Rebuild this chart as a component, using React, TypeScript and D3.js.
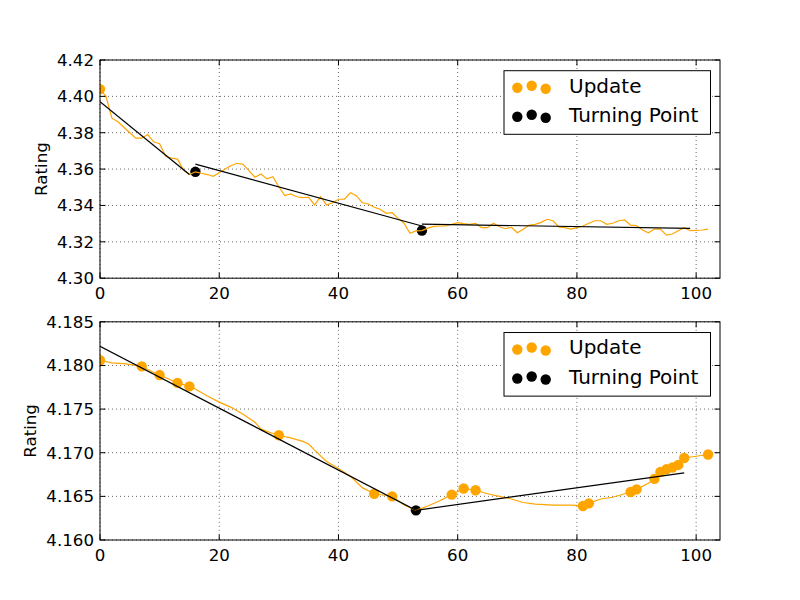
import * as d3 from "d3";

// top panel: rating at x = 0..102
const topRating = [
  4.404, 4.4, 4.388, 4.386, 4.383, 4.38, 4.377, 4.377, 4.379, 4.375,
  4.374, 4.367, 4.366, 4.3655, 4.3595, 4.357, 4.3585, 4.3577, 4.357, 4.356,
  4.358, 4.36, 4.362, 4.3632, 4.3626, 4.359, 4.3555, 4.3573, 4.3546, 4.3558,
  4.3503, 4.3454, 4.3463, 4.3448, 4.3443, 4.3445, 4.3403, 4.3448, 4.3403, 4.3415,
  4.3434, 4.3434, 4.347, 4.3454, 4.3415, 4.3408, 4.339, 4.3379, 4.3357, 4.336,
  4.3329, 4.3302, 4.3247, 4.326, 4.3262, 4.3275, 4.3285, 4.3287, 4.3287, 4.3296,
  4.3305, 4.33, 4.3296, 4.3302, 4.3278, 4.3278, 4.3302, 4.3283, 4.3272, 4.328,
  4.325, 4.3269, 4.3292, 4.3296, 4.3307, 4.3324, 4.3316, 4.328, 4.3278, 4.327,
  4.3278, 4.3287, 4.3302, 4.3316, 4.3316, 4.3296, 4.3302, 4.3316, 4.332, 4.3292,
  4.3289, 4.3265, 4.325, 4.327, 4.327, 4.3237, 4.3243, 4.3261, 4.3278, 4.3261,
  4.3263, 4.3265, 4.327,
];
const topX = topRating.map((_, i) => i);
const topUpdates = [0];
const topTurning = [16, 54];
const topFits: [number, number, number, number][] = [
  [0, 4.397, 15, 4.357],
  [16, 4.3627, 54, 4.3287],
  [54, 4.3297, 99, 4.3274],
];
const topTicks = [4.3, 4.32, 4.34, 4.36, 4.38, 4.4, 4.42];

// bottom panel
const bottomX = [
  0, 2, 4, 6, 7, 9, 10, 12, 13, 15, 16, 18, 20, 22, 24, 26, 27, 29, 30, 32,
  34, 35, 36, 38, 40, 42, 44, 46, 48, 49, 51, 53, 55, 57, 59, 61, 63, 65, 67, 69,
  71, 73, 76, 79, 81, 82, 84, 86, 88, 89, 90, 92, 93, 94, 95, 96, 97, 98, 102,
];
const bottomRating = [
  4.1806, 4.1803, 4.1802, 4.18, 4.1799, 4.1792, 4.1789, 4.1783, 4.178, 4.1776,
  4.1773, 4.1765, 4.1758, 4.1752, 4.1744, 4.1735, 4.1727, 4.1722, 4.172, 4.1717,
  4.1713, 4.171, 4.1703, 4.169, 4.1682, 4.1673, 4.166, 4.1653, 4.1651, 4.165,
  4.164, 4.1634, 4.1639, 4.1645, 4.1652, 4.1659, 4.1657, 4.1653, 4.165, 4.1647,
  4.1643, 4.1641, 4.164, 4.164, 4.1639, 4.1642, 4.1647, 4.1649, 4.1653, 4.1655,
  4.1658, 4.1665, 4.167, 4.1678, 4.1681, 4.1683, 4.1686, 4.1694, 4.1698,
];
const bottomUpdates = [0, 7, 10, 13, 15, 30, 46, 49, 59, 61, 63, 81, 82, 89, 90, 93, 94, 95, 96, 97, 98, 102];
const bottomTurning = [53];
const bottomFits: [number, number, number, number][] = [
  [0, 4.1822, 53, 4.1634],
  [53, 4.1634, 98, 4.1677],
];
const bottomTicks = [4.16, 4.165, 4.17, 4.175, 4.18, 4.185];

const xTicks = [0, 20, 40, 60, 80, 100];
const legendLabels = ["Update", "Turning Point"];

const ORANGE = "#FFA500";
const FONT = "DejaVu Sans, sans-serif";
const FS = 16.67;
const LEGEND_FS = 20;
const W = 800;
const H = 600;
const LEFT = 100;
const RIGHT = 720;
const PANEL_H = 218.18;
const TICK = 5.5;

type PanelProps = {
  id: string;
  top: number;
  xs: number[];
  ys: number[];
  updates: number[];
  turning: number[];
  fits: [number, number, number, number][];
  yTicks: number[];
  fmt: string;
  labelX: number;
};

function Panel({ id, top, xs, ys, updates, turning, fits, yTicks, fmt, labelX }: PanelProps) {
  const bottom = top + PANEL_H;
  const x = d3.scaleLinear([0, 104], [LEFT, RIGHT]);
  const y = d3.scaleLinear([yTicks[0], yTicks[yTicks.length - 1]], [bottom, top]);
  const format = d3.format(fmt);
  const pts = xs.map((v, i) => [v, ys[i]] as [number, number]);
  const valueAt = (v: number) => ys[xs.indexOf(v)];
  const line = d3.line<[number, number]>().x((d) => x(d[0])).y((d) => y(d[1]));

  // legend box, scatter legend with 3 markers at matplotlib's default y offsets
  const lx = 504;
  const ly = top + 10.7;
  const offsets = [0.375, 0.5, 0.3125];
  const markerXs = [517.3, 531.7, 545.7];

  return (
    <g>
      <defs>
        <clipPath id={id}>
          <rect x={LEFT} y={top} width={RIGHT - LEFT} height={PANEL_H} />
        </clipPath>
      </defs>
      {/* grid */}
      <g stroke="black" strokeWidth={0.6} strokeDasharray="1,3">
        {xTicks.map((t) => (
          <line key={"gx" + t} x1={x(t)} x2={x(t)} y1={top} y2={bottom} />
        ))}
        {yTicks.map((t) => (
          <line key={"gy" + t} x1={LEFT} x2={RIGHT} y1={y(t)} y2={y(t)} />
        ))}
      </g>
      <g clipPath={`url(#${id})`}>
        {updates.map((u) => (
          <circle key={"u" + u} cx={x(u)} cy={y(valueAt(u))} r={5.2} fill={ORANGE} />
        ))}
        {turning.map((u) => (
          <circle key={"t" + u} cx={x(u)} cy={y(valueAt(u))} r={5.2} fill="black" />
        ))}
        <path d={line(pts) ?? undefined} fill="none" stroke={ORANGE} strokeWidth={1.2} />
        {fits.map((f, i) => (
          <line key={"f" + i} x1={x(f[0])} y1={y(f[1])} x2={x(f[2])} y2={y(f[3])} stroke="black" strokeWidth={1.2} />
        ))}
      </g>
      {/* ticks, inward on all sides */}
      <g stroke="black" strokeWidth={1}>
        {xTicks.map((t) => (
          <g key={"tx" + t}>
            <line x1={x(t)} x2={x(t)} y1={bottom} y2={bottom - TICK} />
            <line x1={x(t)} x2={x(t)} y1={top} y2={top + TICK} />
          </g>
        ))}
        {yTicks.map((t) => (
          <g key={"ty" + t}>
            <line x1={LEFT} x2={LEFT + TICK} y1={y(t)} y2={y(t)} />
            <line x1={RIGHT} x2={RIGHT - TICK} y1={y(t)} y2={y(t)} />
          </g>
        ))}
      </g>
      <rect x={LEFT} y={top} width={RIGHT - LEFT} height={PANEL_H} fill="none" stroke="black" strokeWidth={1} />
      {/* tick labels */}
      <g fontFamily={FONT} fontSize={FS} fill="black">
        {xTicks.map((t) => (
          <text key={"lx" + t} x={x(t)} y={bottom + 21} textAnchor="middle">
            {t}
          </text>
        ))}
        {yTicks.map((t) => (
          <text key={"ly" + t} x={LEFT - 6} y={y(t) + 6} textAnchor="end">
            {format(t)}
          </text>
        ))}
        <text transform={`translate(${labelX},${(top + bottom) / 2}) rotate(-90)`} textAnchor="middle">
          Rating
        </text>
      </g>
      {/* legend */}
      <rect x={lx} y={ly} width={206.5} height={63.6} fill="white" stroke="black" strokeWidth={1} />
      {legendLabels.map((lab, i) => {
        const rowBottom = ly + 23 + i * 29;
        return (
          <g key={lab}>
            {markerXs.map((mx, j) => (
              <circle key={j} cx={mx} cy={rowBottom - offsets[j] * 16} r={5.2} fill={i === 0 ? ORANGE : "black"} />
            ))}
            <text x={569} y={ly + 21.8 + i * 29.3} fontFamily={FONT} fontSize={LEGEND_FS}>
              {lab}
            </text>
          </g>
        );
      })}
    </g>
  );
}

export default function App() {
  return (
    <svg width={W} height={H} style={{ position: "absolute", left: 0, top: 0, background: "white" }}>
      <rect width={W} height={H} fill="white" />
      <Panel id="c1" top={60} xs={topX} ys={topRating} updates={topUpdates} turning={topTurning} fits={topFits} yTicks={topTicks} fmt=".2f" labelX={47} />
      <Panel id="c2" top={321.82} xs={bottomX} ys={bottomRating} updates={bottomUpdates} turning={bottomTurning} fits={bottomFits} yTicks={bottomTicks} fmt=".3f" labelX={36} />
    </svg>
  );
}
